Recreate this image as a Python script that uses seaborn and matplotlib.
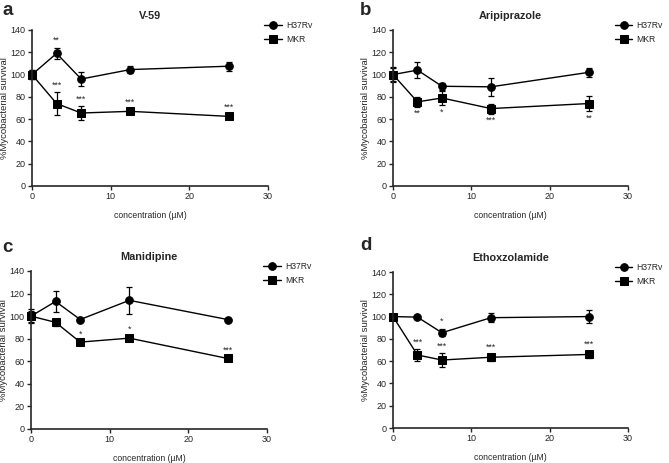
import pandas as pd
import numpy as np
import matplotlib
matplotlib.use('Agg')
import matplotlib.pyplot as plt
import seaborn as sns

sns.set_theme(style='ticks', context='notebook')
plt.rcParams['font.family'] = ['Liberation Sans', 'DejaVu Sans']

# ── data ──────────────────────────────────────────────
conc = [0, 3.125, 6.25, 12.5, 25]
panels = ['a', 'b', 'c', 'd']
titles = ['V-59', 'Aripiprazole', 'Manidipine', 'Ethoxzolamide']

h37_mean = [[100, 119, 96, 104.5, 107.5],
            [100, 104, 89.5, 89, 102],
            [100, 113, 97, 114, 97],
            [100, 99.5, 85.5, 99, 100]]
h37_err = [[4, 5, 6, 3.5, 4],
           [7, 7, 3, 8, 4],
           [6, 9.5, 1, 12, 1],
           [1, 1, 3, 4, 6]]
mkr_mean = [[100, 74, 65.5, 67, 62.5],
            [100, 75.5, 79, 69.5, 74],
            [100, 94.5, 77, 80.5, 62.5],
            [100, 65.5, 61, 63.5, 66]]
mkr_err = [[4, 10, 6, 2, 2],
           [6, 4.5, 6.5, 4.5, 7],
           [5, 3, 1, 2, 1],
           [2, 5, 6.5, 3, 3]]
# significance labels per point ('' = none)
h37_sig = [['', '**', '', '', ''],
           ['', '', '', '', ''],
           ['', '', '', '', ''],
           ['', '', '*', '', '']]
mkr_sig = [['', '***', '***', '***', '***'],
           ['', '**', '*', '***', '**'],
           ['', '', '*', '*', '***'],
           ['', '***', '***', '***', '***']]
mkr_side = [1, -1, 1, 1]   # +1 stars above the MKR point, -1 below

# axes boxes in pixels (left, top, right, bottom) on a 669x463 canvas
W, H = 669, 463
boxes = [(32, 30, 268, 186), (393, 30, 628, 186),
         (31, 271, 267, 429), (393, 272, 628, 428)]
letter_pos = [(-0.123, 1.095), (-0.14, 1.095), (-0.12, 1.12), (-0.14, 1.14)]
legend_x = [0.97, 0.93, 0.97, 0.93]

fig = plt.figure(figsize=(W / 100, H / 100), dpi=100)

for i in range(4):
    l, t, r, b = boxes[i]
    ax = fig.add_axes([l / W, 1 - b / H, (r - l) / W, (b - t) / H])

    df = pd.DataFrame({
        'conc': conc * 2,
        'surv': h37_mean[i] + mkr_mean[i],
        'err': h37_err[i] + mkr_err[i],
        'strain': ['H37Rv'] * 5 + ['MKR'] * 5,
    })
    sns.lineplot(data=df, x='conc', y='surv', style='strain',
                 markers={'H37Rv': 'o', 'MKR': 's'}, dashes=False,
                 color='black', lw=1, ms=5.5, markeredgecolor='black',
                 errorbar=None, ax=ax)
    for strain, sub in df.groupby('strain'):
        ax.errorbar(sub['conc'], sub['surv'], yerr=sub['err'], fmt='none',
                    ecolor='black', elinewidth=0.9, capsize=2.5, capthick=0.9)

    # significance stars
    for j in range(5):
        if h37_sig[i][j]:
            y = h37_mean[i][j] + h37_err[i][j] + 3
            ax.text(conc[j], y, h37_sig[i][j], ha='center', va='bottom', fontsize=6.3)
        if mkr_sig[i][j]:
            if mkr_side[i] > 0:
                y = mkr_mean[i][j] + mkr_err[i][j] + 2
                ax.text(conc[j], y, mkr_sig[i][j], ha='center', va='bottom', fontsize=6.3)
            else:
                y = mkr_mean[i][j] - mkr_err[i][j] - 2
                ax.text(conc[j], y, mkr_sig[i][j], ha='center', va='top', fontsize=6.3)

    ax.set_xlim(0, 30)
    ax.set_ylim(0, 140)
    ax.set_xticks([0, 10, 20, 30])
    ax.set_yticks(range(0, 141, 20))
    ax.tick_params(labelsize=6.5, width=1, length=3, pad=1.5)
    ax.spines['left'].set_linewidth(1.2)
    ax.spines['bottom'].set_linewidth(1.2)
    sns.despine(ax=ax)
    ax.set_xlabel('concentration (\u00b5M)', fontsize=6.2, labelpad=7)
    ax.set_ylabel('%Mycobacterial survival', fontsize=6.8, labelpad=1)
    ax.set_title(titles[i], fontsize=7.8, fontweight='bold', pad=8)
    ax.text(letter_pos[i][0], letter_pos[i][1], panels[i], transform=ax.transAxes,
            fontsize=13.5, fontweight='bold', ha='left', va='baseline')
    for sp in ax.spines.values():
        sp.set_clip_on(False)
    for ln in ax.lines:
        ln.set_clip_on(False)

    sns.move_legend(ax, 'upper left', bbox_to_anchor=(legend_x[i], 1.08), frameon=False,
                    title=None, fontsize=6.2, handlelength=2.0, handletextpad=0.5,
                    labelspacing=0.55, borderaxespad=0)

plt.savefig('out.png', dpi=100)
